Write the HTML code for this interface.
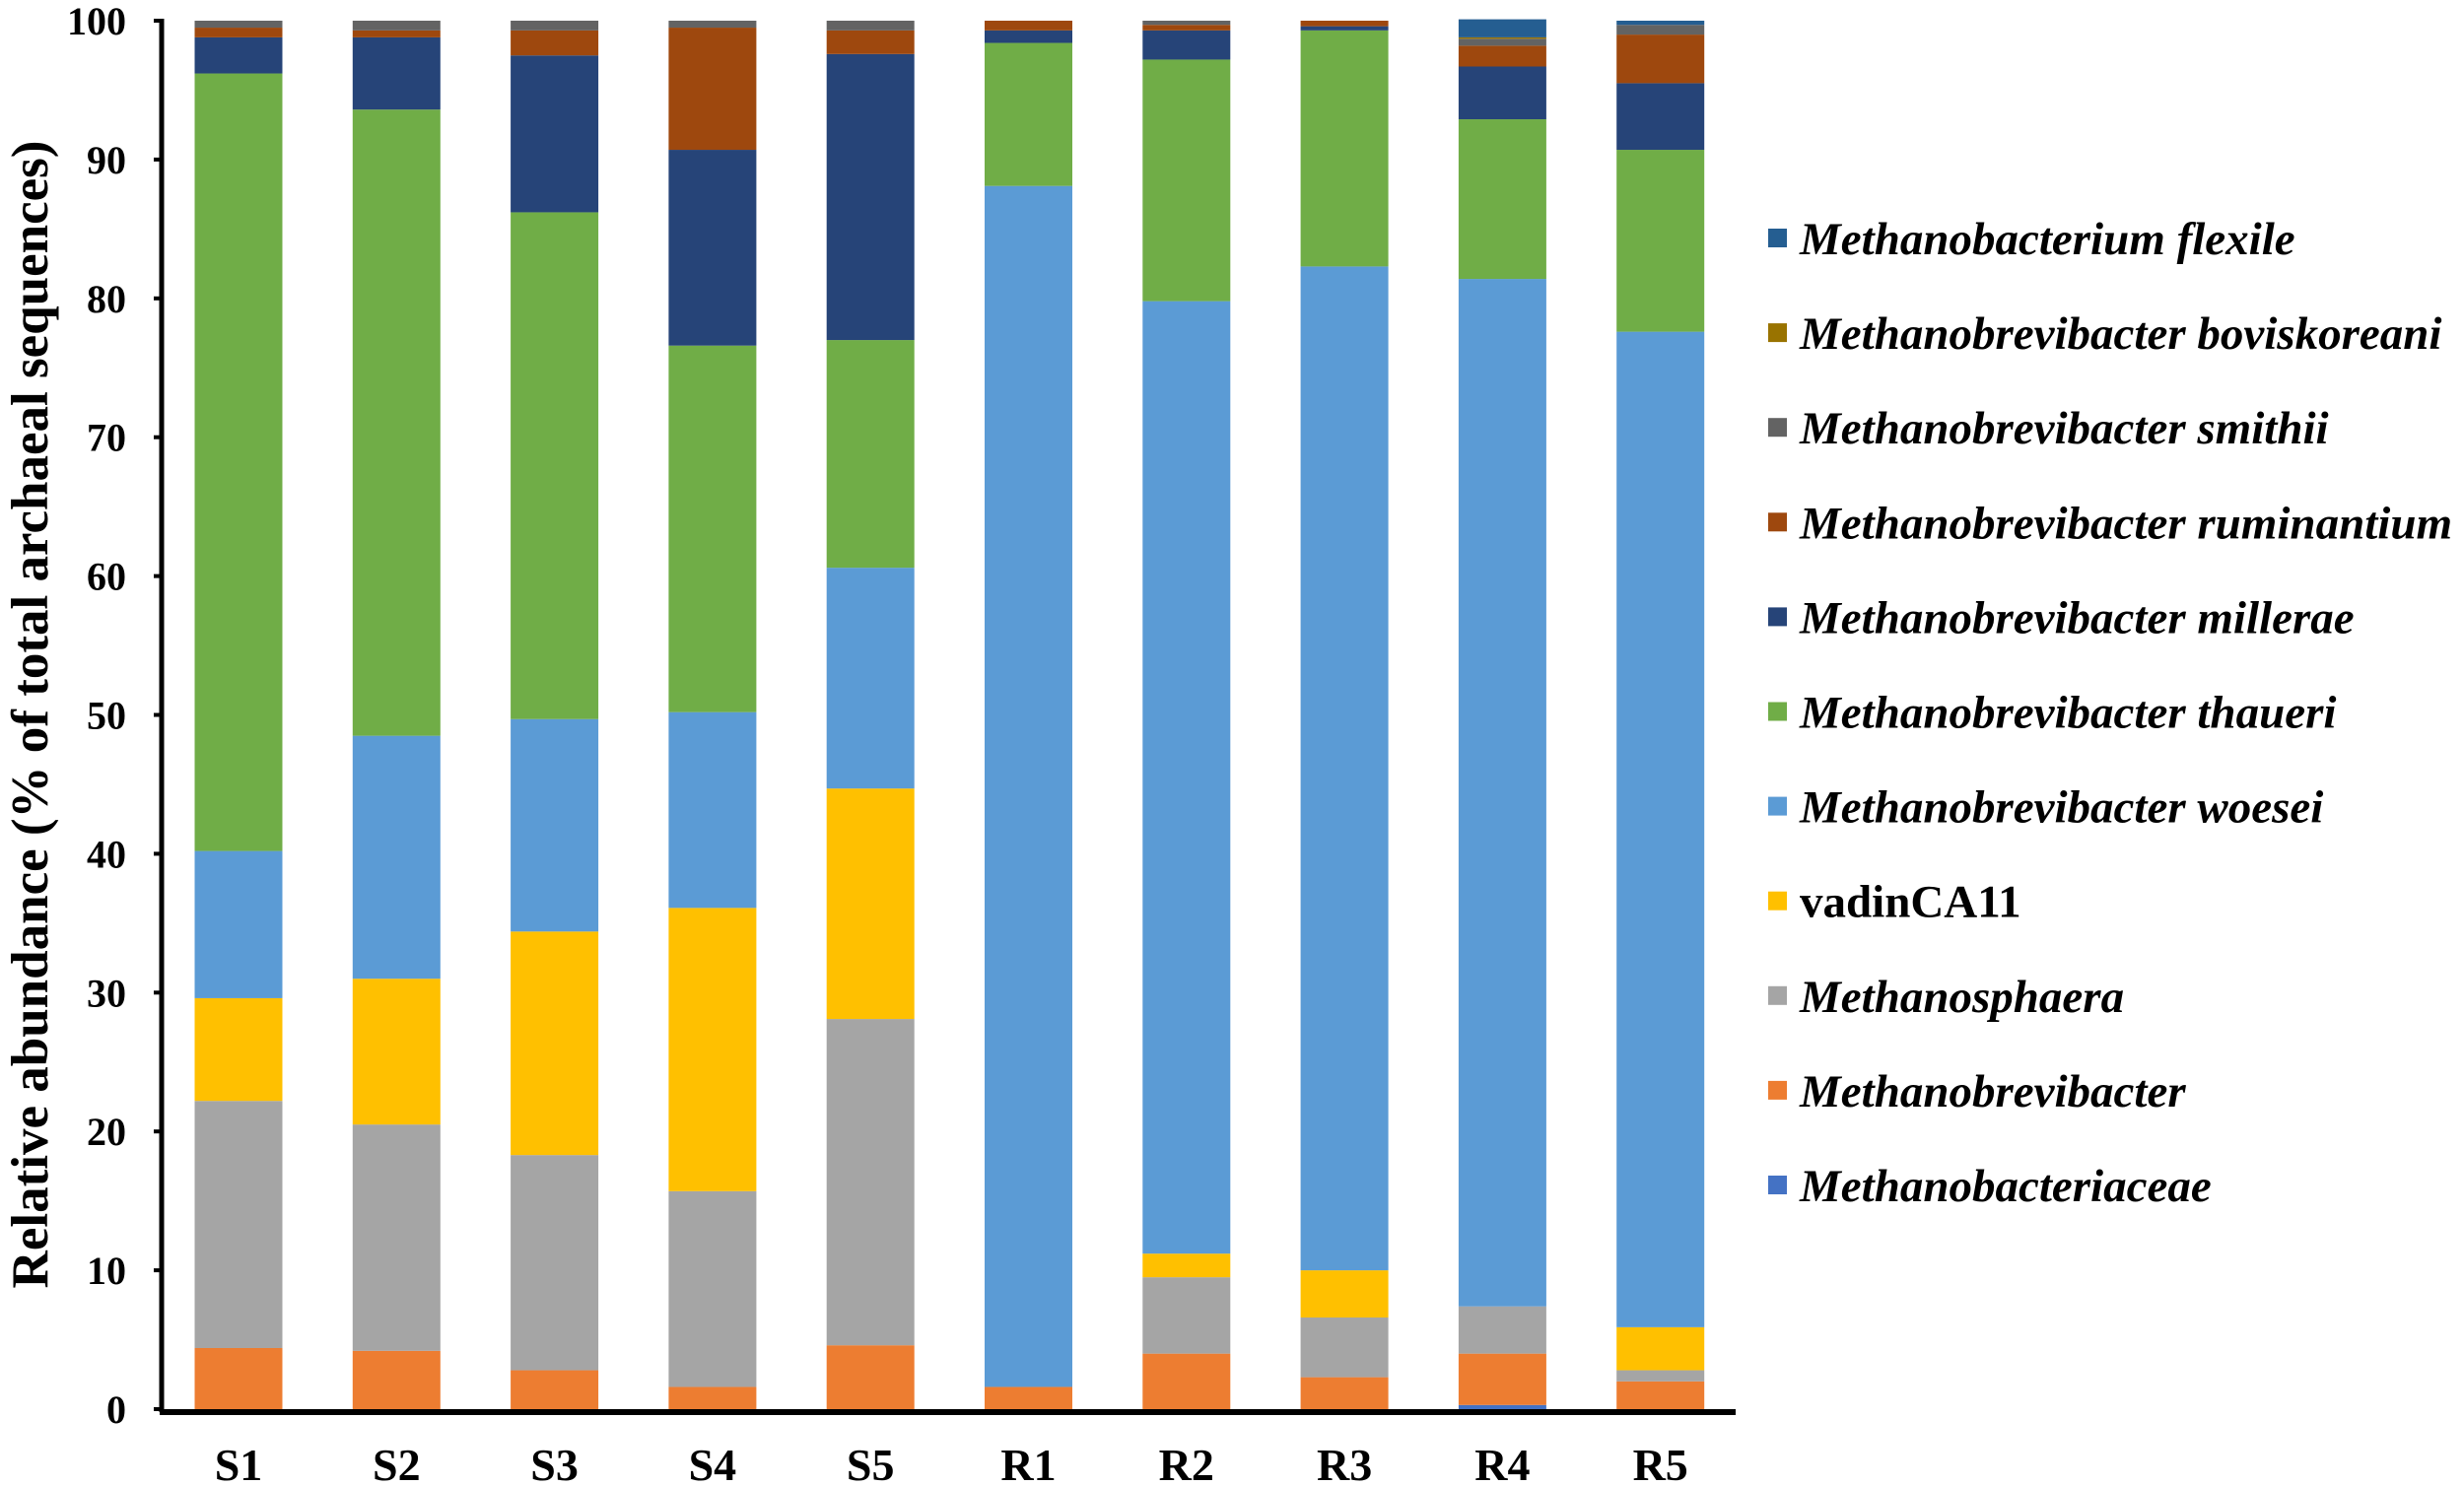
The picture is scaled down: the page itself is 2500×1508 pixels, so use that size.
<!DOCTYPE html>
<html><head><meta charset="utf-8"><style>html,body{margin:0;padding:0;background:#fff}svg{display:block}</style></head>
<body>
<svg id="chart" width="2500" height="1508" viewBox="0 0 2500 1508" xmlns="http://www.w3.org/2000/svg" font-family="'Liberation Serif', serif"></svg>
<script>
const categories = ["S1","S2","S3","S4","S5","R1","R2","R3","R4","R5"];
const seriesNames = ["Methanobacteriaceae","Methanobrevibacter","Methanosphaera","vadinCA11","Methanobrevibacter woesei","Methanobrevibacter thaueri","Methanobrevibacter millerae","Methanobrevibacter ruminantium","Methanobrevibacter smithii","Methanobrevibacter boviskoreani","Methanobacterium flexile"];
const seriesItalic = [true,true,true,false,true,true,true,true,true,true,true];
const seriesColors = ["#4472C4","#ED7D31","#A5A5A5","#FFC000","#5B9BD5","#70AD47","#264478","#9E480E","#636363","#997300","#255E91"];
const sFamily   = [0,0,0,0,0,0,0,0,0.3,0];
const sMbrev    = [4.4,4.2,2.8,1.6,4.6,1.6,4.0,2.3,3.7,2.0];
const sMsph     = [17.8,16.3,15.5,14.1,23.5,0,5.5,4.3,3.4,0.8];
const sVadin    = [7.4,10.5,16.1,20.4,16.6,0,1.7,3.4,0,3.1];
const sWoesei   = [10.6,17.5,15.3,14.1,15.9,86.5,68.6,72.3,74.0,71.7];
const sThaueri  = [56.0,45.1,36.5,26.4,16.4,10.3,17.4,17.0,11.5,13.1];
const sMillerae = [2.6,5.2,11.3,14.1,20.6,0.9,2.1,0.3,3.8,4.8];
const sRumin    = [0.7,0.5,1.8,8.8,1.7,0.7,0.4,0.4,1.5,3.5];
const sSmithii  = [0.5,0.7,0.7,0.5,0.7,0,0.3,0,0.5,0.7];
const sBovis    = [0,0,0,0,0,0,0,0,0.1,0];
const sFlexile  = [0,0,0,0,0,0,0,0,1.3,0.3];
const series = [sFamily,sMbrev,sMsph,sVadin,sWoesei,sThaueri,sMillerae,sRumin,sSmithii,sBovis,sFlexile];
const yTicks = [0,10,20,30,40,50,60,70,80,90,100];

const NS="http://www.w3.org/2000/svg";
const svg=document.getElementById('chart');
const X0=164, X1=1761, Y0=1430, Y100=21;
const yScale=v=>Y0-(v/100)*(Y0-Y100);
const step=160.3, firstC=242, barW=89;
const xScale=i=>firstC+i*step;
function mk(tag,attrs,parent){const e=document.createElementNS(NS,tag);for(const k in attrs)e.setAttribute(k,attrs[k]);(parent||svg).appendChild(e);return e;}

const barsG=mk('g',{});


categories.forEach((c,i)=>{
  let cum=0;
  series.forEach((s,k)=>{
    const v=s[i]; if(v<=0){return;}
    const y1=yScale(cum+v), y2=yScale(cum);
    const r=mk('rect',{x:xScale(i)-barW/2,y:y1,width:barW,height:y2-y1,fill:seriesColors[k]},barsG);
    
    
    cum+=v;
  });
});

const ya=mk('line',{x1:X0,y1:Y100-2,x2:X0,y2:Y0+3,stroke:'#000','stroke-width':5});


const xa=mk('line',{x1:X0-2,y1:Y0+3,x2:X1,y2:Y0+3,stroke:'#000','stroke-width':6});


yTicks.forEach(t=>{
  const y=yScale(t);
  const tk=mk('line',{x1:X0-8,y1:y,x2:X0,y2:y,stroke:'#000','stroke-width':4});
  
  
  const tl=mk('text',{x:128,y:y+14,'text-anchor':'end','font-size':40,'font-weight':'bold'});
  tl.textContent=t;
  
  
});
categories.forEach((c,i)=>{
  const tl=mk('text',{x:xScale(i),y:1502,'text-anchor':'middle','font-size':46,'font-weight':'bold'});
  tl.textContent=c;
  
  
});
const yt=mk('text',{x:0,y:0,transform:'translate(48,725) rotate(-90)','text-anchor':'middle','font-size':53,'font-weight':'bold'});
yt.textContent='Relative abundance (% of total archaeal sequences)';



const lg=mk('g',{});


for(let k=seriesNames.length-1;k>=0;k--){
  const row=seriesNames.length-1-k;
  const y=242+row*96.1;
  const sw=mk('rect',{x:1794,y:y-10,width:19,height:19,fill:seriesColors[k]},lg);
  
  
  const t=mk('text',{x:1826,y:y+16,'font-size':47,'font-weight':'bold','font-style':seriesItalic[k]?'italic':'normal'},lg);
  t.textContent=seriesNames[k];
  
  
}
</script>
</body></html>
